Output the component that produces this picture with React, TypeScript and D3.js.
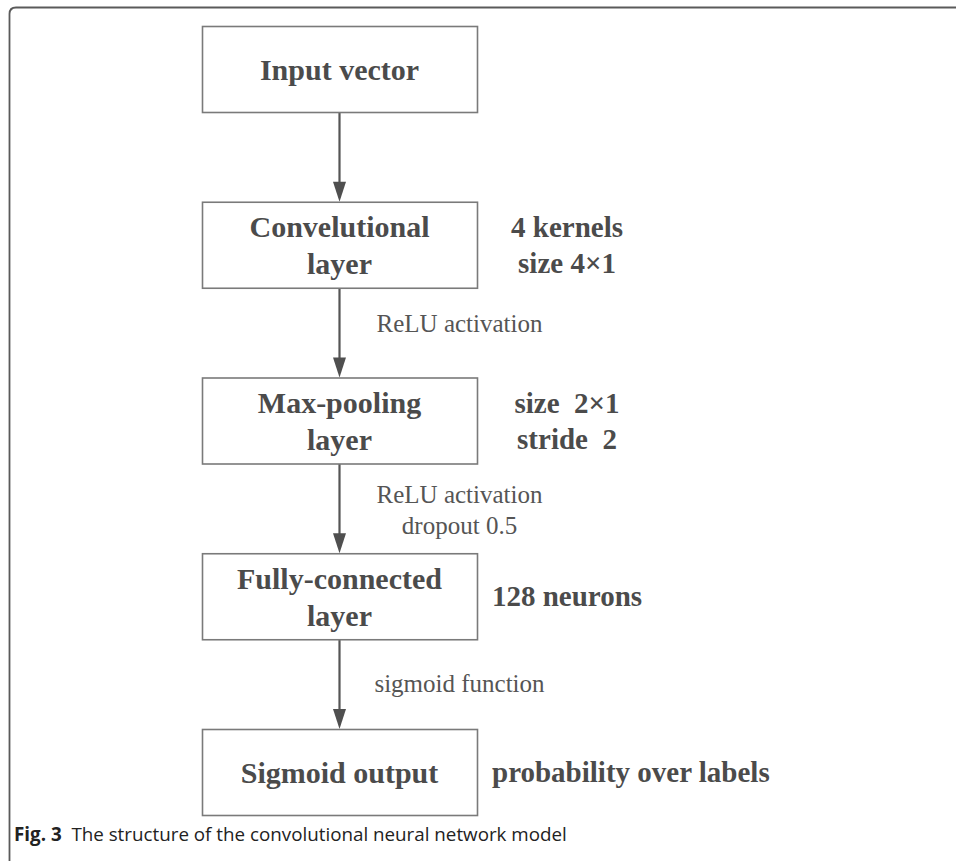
import React, { useEffect, useRef } from "react";
import * as d3 from "d3";

// Flow diagram of the CNN model (Fig. 3)

const layerLabels: string[][] = [
  ["Input vector"],
  ["Convelutional", "layer"],
  ["Max-pooling", "layer"],
  ["Fully-connected", "layer"],
  ["Sigmoid output"],
];

const layerNotes: string[][] = [
  [],
  ["4 kernels", "size 4×1"],
  ["size  2×1", "stride  2"],
  ["128 neurons"],
  ["probability over labels"],
];

// label on the arrow going into layer i
const edgeLabels: string[][] = [
  [],
  [],
  ["ReLU activation"],
  ["ReLU activation", "dropout 0.5"],
  ["sigmoid function"],
];

const captionBold = "Fig. 3";
const captionText = "The structure of the convolutional neural network model";

const W = 956,
  H = 861;

// first baseline of each edge label, measured down from the box above it
const edgeLabelDy = [0, 0, 44, 39, 53];

export default function App() {
  const ref = useRef<SVGSVGElement>(null);

  useEffect(() => {
    const svg = d3.select(ref.current);
    svg.selectAll("*").remove();

    const boxW = 275,
      boxH = 86,
      boxX = 202;
    const cx = boxX + boxW / 2;
    const idx = layerLabels.map((_, i) => i);
    const y = d3.scalePoint<number>().domain(idx).range([26, 729]);

    const boxFont = "'Liberation Serif', 'Times New Roman', serif";
    const textCol = "#4b4b4b";

    // outer frame, open on the right and bottom
    svg
      .append("path")
      .attr("d", `M9.5,${H + 20} V14 Q9.5,7.5 16,7.5 H${W + 20}`)
      .attr("fill", "none")
      .attr("stroke", "#5a5a5a")
      .attr("stroke-width", 1.8);

    // arrows
    const arrows = svg.append("g");
    idx.slice(1).forEach((i) => {
      const y0 = (y(i - 1) as number) + boxH;
      const y1 = y(i) as number;
      arrows
        .append("line")
        .attr("x1", cx)
        .attr("x2", cx)
        .attr("y1", y0)
        .attr("y2", y1 - 16)
        .attr("stroke", "#555")
        .attr("stroke-width", 2.2);
      arrows
        .append("path")
        .attr("d", `M${cx - 6.5},${y1 - 20} L${cx + 6.5},${y1 - 20} L${cx},${y1} Z`)
        .attr("fill", "#4f4f4f");
    });

    // boxes
    const boxes = svg
      .selectAll("g.box")
      .data(layerLabels)
      .join("g")
      .attr("class", "box")
      .attr("transform", (_, i) => `translate(${boxX}, ${y(i)})`);

    boxes
      .append("rect")
      .attr("x", 0.5)
      .attr("y", 0.5)
      .attr("width", boxW)
      .attr("height", boxH)
      .attr("fill", "#fff")
      .attr("stroke", "#7a7a7a")
      .attr("stroke-width", 1.6);

    boxes.each(function (lines) {
      const g = d3.select(this);
      const lineH = 37;
      const first = boxH / 2 + 11 - ((lines.length - 1) * lineH) / 2;
      lines.forEach((t, k) => {
        g.append("text")
          .attr("x", boxW / 2)
          .attr("y", first + k * lineH)
          .attr("text-anchor", "middle")
          .attr("font-family", boxFont)
          .attr("font-weight", "bold")
          .attr("font-size", 30)
          .attr("fill", textCol)
          .text(t);
      });
    });

    // notes to the right of each box
    layerNotes.forEach((lines, i) => {
      const lineH = 36;
      const top = y(i) as number;
      const first = top + boxH / 2 + 10 - ((lines.length - 1) * lineH) / 2;
      const last = i === layerNotes.length - 1;
      lines.forEach((t, k) => {
        svg
          .append("text")
          .attr("x", last ? 492 : 567)
          .attr("y", first + k * lineH)
          .attr("text-anchor", last ? "start" : "middle")
          .attr("font-family", boxFont)
          .attr("font-weight", "bold")
          .attr("font-size", 29)
          .attr("fill", textCol)
          .style("white-space", "pre")
          .text(t);
      });
    });

    // labels on the arrows
    edgeLabels.forEach((lines, i) => {
      if (!lines.length) return;
      const gapTop = (y(i - 1) as number) + boxH;
      const lineH = 31;
      lines.forEach((t, k) => {
        svg
          .append("text")
          .attr("x", cx + 120)
          .attr("y", gapTop + edgeLabelDy[i] + k * lineH)
          .attr("text-anchor", "middle")
          .attr("font-family", boxFont)
          .attr("font-size", 25)
          .attr("fill", "#555")
          .text(t);
      });
    });

    // caption
    const cap = svg
      .append("text")
      .attr("x", 14)
      .attr("y", 841)
      .attr("font-family", "'Open Sans', 'Noto Sans', sans-serif")
      .attr("font-size", 18.8)
      .attr("fill", "#222")
      .style("white-space", "pre");
    cap.append("tspan").attr("font-weight", "bold").text(captionBold);
    cap.append("tspan").text("  " + captionText);
  }, []);

  return (
    <svg
      ref={ref}
      width={W}
      height={H}
      style={{ position: "absolute", left: 0, top: 0, background: "#fff" }}
    />
  );
}
